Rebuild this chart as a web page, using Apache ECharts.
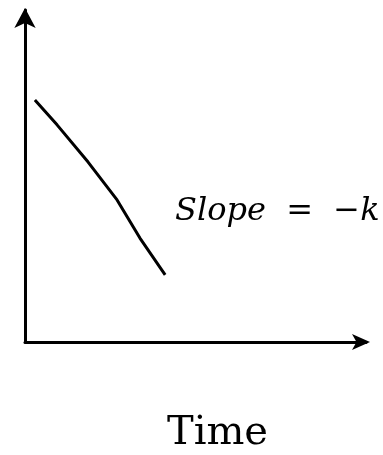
<!DOCTYPE html>
<html>
<head>
<meta charset="utf-8">
<script src="https://cdn.jsdelivr.net/npm/echarts@6/dist/echarts.min.js"></script>
<style>
  html, body { margin: 0; padding: 0; background: #fff; }
  #chart { width: 383px; height: 455px; }
</style>
</head>
<body>
<div id="chart"></div>
<script>
// Concentration falling over time (sketch), straight-line decline
const timeValues = [0.29, 0.94, 1.85, 2.7, 3.37, 4.11];
const levelValues = [7.29, 6.54, 5.42, 4.28, 3.13, 2.02];
const slopeLabel = 'Slope  =  \u2212k';
const xAxisTitle = 'Time';

const points = timeValues.map((t, i) => [t, levelValues[i]]);

const chart = echarts.init(document.getElementById('chart'), null, { renderer: 'canvas' });

const ink = '#000';
const handFont = '"DejaVu Serif", "Liberation Serif", serif';

chart.setOption({
  animation: false,
  backgroundColor: '#fff',
  grid: { left: 25, right: 17, top: 10, bottom: 113, containLabel: false, outerBoundsMode: 'none' },
  xAxis: {
    type: 'value',
    min: 0,
    max: 10,
    name: xAxisTitle,
    nameLocation: 'middle',
    nameGap: 72,
    nameTextStyle: { color: ink, fontSize: 40, fontFamily: handFont, padding: [0, 0, 0, 44] },
    axisLine: {
      show: true,
      lineStyle: { color: ink, width: 3 },
      symbol: ['none', 'arrow'],
      symbolSize: [12, 18],
      symbolOffset: [0, 4]
    },
    axisTick: { show: false },
    axisLabel: { show: false },
    splitLine: { show: false }
  },
  yAxis: {
    type: 'value',
    min: 0,
    max: 10,
    axisLine: {
      show: true,
      lineStyle: { color: ink, width: 3 },
      symbol: ['none', 'arrow'],
      symbolSize: [16, 20],
      symbolOffset: [0, 2]
    },
    axisTick: { show: false },
    axisLabel: { show: false },
    splitLine: { show: false }
  },
  series: [{
    type: 'line',
    data: points,
    showSymbol: false,
    lineStyle: { color: ink, width: 3 },
    smooth: false
  }],
  graphic: [{
    type: 'text',
    left: 175,
    top: 196,
    style: {
      text: slopeLabel,
      fill: ink,
      font: 'italic 32px ' + handFont
    }
  }]
});
</script>
</body>
</html>
